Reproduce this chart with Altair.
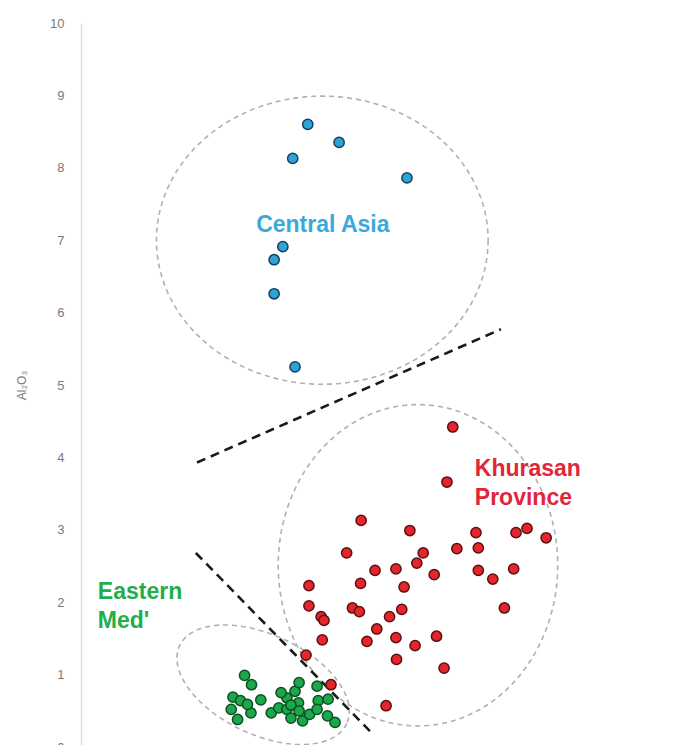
import altair as alt
import pandas as pd
import numpy as np

# ---- data (x in arbitrary units, y = Al2O3 wt%) ----
central_x = [3.91, 4.45, 3.65, 5.62, 3.48, 3.33, 3.33, 3.69]
central_y = [8.60, 8.35, 8.13, 7.86, 6.91, 6.73, 6.26, 5.25]

khur_x = [6.41, 6.31, 4.83, 5.67, 6.81, 7.50, 7.69, 8.02, 4.58, 6.48, 6.85, 5.90,
          5.79, 5.07, 5.43, 6.09, 6.85, 7.10, 7.46, 3.93, 4.82, 5.57, 3.93, 4.68,
          4.80, 4.14, 4.19, 5.32, 5.53, 7.30, 5.10, 4.16, 4.93, 5.43, 5.76, 6.13,
          3.88, 5.44, 6.26, 4.31, 5.26]
khur_y = [4.42, 3.66, 3.13, 2.99, 2.96, 2.96, 3.02, 2.89, 2.68, 2.74, 2.75, 2.68,
          2.54, 2.44, 2.46, 2.38, 2.44, 2.32, 2.46, 2.23, 2.26, 2.21, 1.95, 1.92,
          1.87, 1.80, 1.75, 1.80, 1.90, 1.92, 1.63, 1.48, 1.46, 1.51, 1.40, 1.53,
          1.27, 1.21, 1.09, 0.86, 0.57]

med_x = [2.82, 2.94, 2.62, 2.75, 3.10, 2.59, 2.70, 2.93, 2.87, 3.28, 3.41, 3.55,
         3.55, 3.62, 3.69, 3.76, 3.75, 3.76, 3.82, 3.94, 4.07, 4.09, 4.07, 4.26,
         4.25, 4.38, 3.45, 3.62]
med_y = [0.99, 0.86, 0.69, 0.64, 0.65, 0.52, 0.38, 0.47, 0.59, 0.47, 0.54, 0.68,
         0.52, 0.40, 0.77, 0.89, 0.61, 0.50, 0.36, 0.45, 0.84, 0.64, 0.52, 0.66,
         0.43, 0.34, 0.75, 0.58]

# dividing lines
line_names = ["upper", "upper", "lower", "lower"]
line_x = [2.00, 7.24, 1.98, 5.03]
line_y = [3.93, 5.77, 2.68, 0.18]

# group ellipses: centre, semi-axes (x units / y units), rotation (deg, screen)
ell_names = ["Central Asia", "Khurasan", "Eastern Med"]
ell_cx = [4.16, 5.81, 3.14]
ell_cy = [7.00, 2.51, 0.86]
ell_ax = [2.86, 2.41, 1.59]
ell_by = [1.99, 2.22, 0.69]
ell_rot = [0, 0, 25]

# labels
lab_text = ["Central Asia", "Khurasan", "Province", "Eastern", "Med'"]
lab_x = [4.17, 6.79, 6.79, 0.29, 0.29]
lab_y = [7.21, 3.84, 3.44, 2.14, 1.74]
lab_group = ["Central Asia", "Khurasan Province", "Khurasan Province",
             "Eastern Med'", "Eastern Med'"]
lab_align = ["center", "left", "left", "left", "left"]

groups = ["Central Asia", "Khurasan Province", "Eastern Med'"]
fills = ["#2fa3d8", "#e3262c", "#1aa84a"]
strokes = ["#173e5e", "#5e0f12", "#0e4f22"]
text_colors = ["#3aa9dc", "#e0263a", "#1fae4b"]

# ---- tables ----
pts = pd.concat([
    pd.DataFrame({"x": central_x, "y": central_y, "group": "Central Asia"}),
    pd.DataFrame({"x": khur_x, "y": khur_y, "group": "Khurasan Province"}),
    pd.DataFrame({"x": med_x, "y": med_y, "group": "Eastern Med'"}),
])

lines = pd.DataFrame({"line": line_names, "x": line_x, "y": line_y})

# ellipse outlines (pixel aspect: 58 px per x unit, 72.4 px per y unit)
px_x, px_y = 58.0, 72.4
rows = []
t = np.deg2rad(np.arange(0, 361, 3))
for n, cx, cy, ax_, by_, r in zip(ell_names, ell_cx, ell_cy, ell_ax, ell_by, ell_rot):
    a = ax_ * px_x
    b = by_ * px_y
    ph = np.deg2rad(r)
    dx = a * np.cos(t) * np.cos(ph) - b * np.sin(t) * np.sin(ph)
    dy = a * np.cos(t) * np.sin(ph) + b * np.sin(t) * np.cos(ph)
    for i in range(len(t)):
        rows.append({"name": n, "i": i, "x": cx + dx[i] / px_x, "y": cy - dy[i] / px_y})
ell = pd.DataFrame(rows)

labs = pd.DataFrame({"text": lab_text, "x": lab_x, "y": lab_y,
                     "group": lab_group, "align": lab_align})

xs = alt.Scale(domain=[0, 10], nice=False, zero=False)
ys = alt.Scale(domain=[0, 10], nice=False)

X = alt.X("x:Q", scale=xs, axis=None)
Y = alt.Y("y:Q", scale=ys, title="Al₂O₃",
          axis=alt.Axis(values=list(range(0, 11)), grid=False, ticks=False,
                        domainColor="#dddddd", domainWidth=1.5,
                        labelColor="#7a7a7a", labelFontSize=13,
                        labelFont="Liberation Sans", labelPadding=17,
                        titleColor="#7a7a7a", titleFontSize=12,
                        titleFont="Liberation Sans", titleFontWeight="normal",
                        titlePadding=21))

ellipses = alt.Chart(ell).mark_line(
    color="#b0b0b0", strokeWidth=1.6, strokeDash=[5, 4]
).encode(x=X, y=Y, detail="name:N", order="i:Q")

divs = alt.Chart(lines).mark_line(
    color="#1a1a1a", strokeWidth=2.6, strokeDash=[9, 6]
).encode(x=X, y=Y, detail="line:N")

points = alt.Chart(pts).mark_point(
    filled=True, size=105, opacity=1, strokeWidth=1.5, shape="circle"
).encode(
    x=X, y=Y,
    fill=alt.Fill("group:N", scale=alt.Scale(domain=groups, range=fills), legend=None),
    stroke=alt.Stroke("group:N", scale=alt.Scale(domain=groups, range=strokes), legend=None),
)

text_center = alt.Chart(labs[labs["align"] == "center"]).mark_text(
    font="Liberation Sans", fontWeight="bold", fontSize=23, align="center",
    baseline="middle"
).encode(x=X, y=Y, text="text:N",
         color=alt.Color("group:N", scale=alt.Scale(domain=groups,
                         range=text_colors), legend=None))

text_left = alt.Chart(labs[labs["align"] == "left"]).mark_text(
    font="Liberation Sans", fontWeight="bold", fontSize=23, align="left",
    baseline="middle"
).encode(x=X, y=Y, text="text:N",
         color=alt.Color("group:N", scale=alt.Scale(domain=groups,
                         range=text_colors), legend=None))

chart = alt.layer(ellipses, divs, points, text_center, text_left).properties(
    width=580, height=724, padding={"top": 9, "left": 7, "right": 5, "bottom": 5}
).configure(background="white").configure_view(stroke=None, strokeWidth=0)

chart.save("out.html", embed_options={"renderer": "svg", "actions": False})
